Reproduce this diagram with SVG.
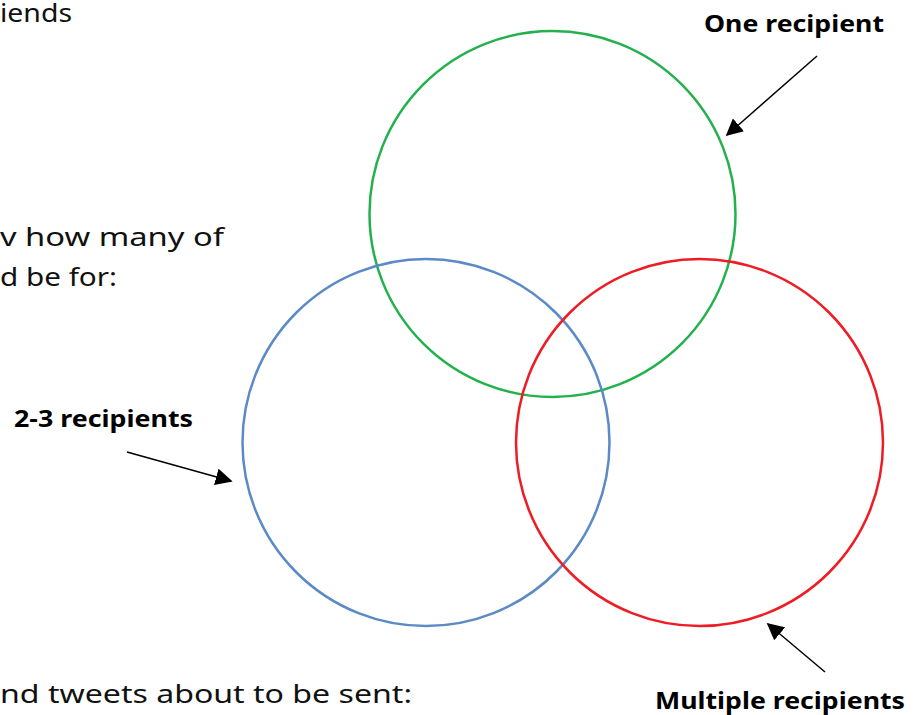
<svg xmlns="http://www.w3.org/2000/svg" width="918" height="715" viewBox="0 0 918 715">
<style>
.body{font-family:"Noto Sans","Open Sans",sans-serif;font-size:26px;fill:#111}
.lbl{font-family:"Noto Sans","Open Sans",sans-serif;font-size:24px;font-weight:bold;fill:#000}
.ring{fill:none;stroke-width:2.5}
.arrow{stroke:#000;stroke-width:1.5;fill:none;marker-end:url(#ah)}
</style>
<defs>
<marker id="ah" viewBox="0 0 10 10" refX="9" refY="5" markerWidth="17" markerHeight="17" markerUnits="userSpaceOnUse" orient="auto">
<path d="M0,0 L10,5 L0,10 z" fill="#000"/>
</marker>
</defs>
<rect width="918" height="715" fill="#fff"/>
<text class="body" x="0" y="22" textLength="72" lengthAdjust="spacingAndGlyphs">iends</text>
<text class="body" x="0" y="246" textLength="224" lengthAdjust="spacingAndGlyphs">v how many of</text>
<text class="body" x="0" y="286" textLength="117" lengthAdjust="spacingAndGlyphs">d be for:</text>
<text class="body" x="0" y="703" textLength="412" lengthAdjust="spacingAndGlyphs">nd tweets about to be sent:</text>
<g id="one">
<circle class="ring" cx="552.5" cy="214" r="183" stroke="#22b14c"/>
<text class="lbl" x="704" y="32" textLength="180" lengthAdjust="spacingAndGlyphs">One recipient</text>
</g>
<g id="two">
<circle class="ring" cx="426" cy="442.5" r="183.5" stroke="#5b8ac6"/>
<text class="lbl" x="14" y="427" textLength="179" lengthAdjust="spacingAndGlyphs">2-3 recipients</text>
</g>
<g id="multi">
<circle class="ring" cx="699.5" cy="442.5" r="183.5" stroke="#ee1c24"/>
<text class="lbl" x="655" y="709" textLength="250" lengthAdjust="spacingAndGlyphs">Multiple recipients</text>
</g>
<g id="connectors">
<line class="arrow" x1="817" y1="56" x2="727" y2="135"/>
<line class="arrow" x1="127" y1="452" x2="231" y2="481"/>
<line class="arrow" x1="825" y1="672" x2="768" y2="624"/>
</g>
</svg>
